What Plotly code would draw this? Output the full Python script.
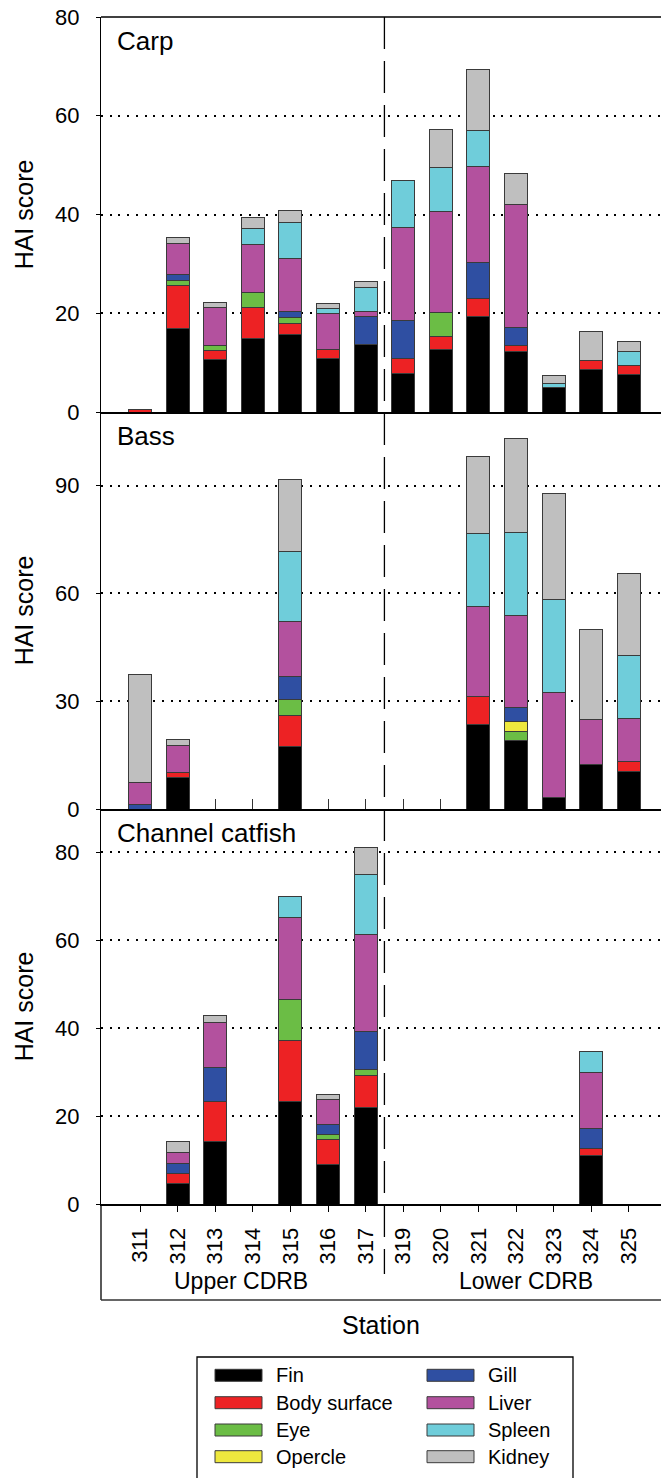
import plotly.graph_objects as go
from plotly.subplots import make_subplots

stations = ["311", "312", "313", "314", "315", "316", "317",
            "319", "320", "321", "322", "323", "324", "325"]
organs = ["Fin", "Body surface", "Eye", "Opercle", "Gill", "Liver", "Spleen", "Kidney"]
colors = ["#000000", "#ED2224", "#6BBD45", "#EEE83E", "#2F4FA2", "#B3519E", "#6FCDDA", "#BFBFBF"]

# Carp
carp_fin     = [0, 17.0, 10.6, 14.8, 15.6, 10.8, 13.6, 7.7, 12.6, 19.3, 12.2, 5.0, 8.6, 7.5]
carp_body    = [0.5, 8.6, 1.9, 6.4, 2.4, 1.9, 0, 3.1, 2.6, 3.6, 1.3, 0, 1.9, 2.0]
carp_eye     = [0, 1.1, 0.9, 3.1, 1.1, 0, 0, 0, 5.0, 0, 0, 0, 0, 0]
carp_opercle = [0, 0, 0, 0, 0, 0, 0, 0, 0, 0, 0, 0, 0, 0]
carp_gill    = [0, 1.1, 0, 0, 1.2, 0, 5.8, 7.8, 0, 7.4, 3.7, 0, 0, 0]
carp_liver   = [0, 6.4, 7.7, 9.6, 10.8, 7.3, 1.0, 18.8, 20.4, 19.5, 24.8, 0, 0, 0]
carp_spleen  = [0, 0, 0, 3.2, 7.2, 1.0, 4.9, 9.5, 9.0, 7.2, 0, 0.7, 0, 2.8]
carp_kidney  = [0, 1.2, 1.1, 2.2, 2.5, 1.0, 1.1, 0, 7.7, 12.3, 6.4, 1.7, 5.9, 2.0]

# Bass
bass_fin     = [0, 8.8, 0, 0, 17.5, 0, 0, 0, 0, 23.6, 19.1, 3.2, 12.4, 10.5]
bass_body    = [0, 1.4, 0, 0, 8.5, 0, 0, 0, 0, 7.7, 0, 0, 0, 2.8]
bass_eye     = [0, 0, 0, 0, 4.4, 0, 0, 0, 0, 0, 2.5, 0, 0, 0]
bass_opercle = [0, 0, 0, 0, 0, 0, 0, 0, 0, 0, 2.8, 0, 0, 0]
bass_gill    = [1.3, 0, 0, 0, 6.6, 0, 0, 0, 0, 0, 3.9, 0, 0, 0]
bass_liver   = [6.0, 7.4, 0, 0, 15.2, 0, 0, 0, 0, 25.2, 25.6, 29.2, 12.5, 12.0]
bass_spleen  = [0, 0, 0, 0, 19.6, 0, 0, 0, 0, 20.1, 23.2, 26.0, 0, 17.4]
bass_kidney  = [30.2, 1.7, 0, 0, 19.8, 0, 0, 0, 0, 21.5, 25.9, 29.4, 25.1, 22.8]

# Channel catfish
cat_fin     = [0, 4.6, 14.2, 0, 23.3, 9.0, 22.0, 0, 0, 0, 0, 0, 11.0, 0]
cat_body    = [0, 2.3, 9.1, 0, 13.9, 5.7, 7.3, 0, 0, 0, 0, 0, 1.6, 0]
cat_eye     = [0, 0, 0, 0, 9.3, 1.1, 1.3, 0, 0, 0, 0, 0, 0, 0]
cat_opercle = [0, 0, 0, 0, 0, 0, 0, 0, 0, 0, 0, 0, 0, 0]
cat_gill    = [0, 2.3, 7.7, 0, 0, 2.2, 8.6, 0, 0, 0, 0, 0, 4.6, 0]
cat_liver   = [0, 2.4, 10.3, 0, 18.7, 5.7, 22.0, 0, 0, 0, 0, 0, 12.7, 0]
cat_spleen  = [0, 0, 0, 0, 4.8, 0, 13.6, 0, 0, 0, 0, 0, 4.8, 0]
cat_kidney  = [0, 2.5, 1.5, 0, 0, 1.3, 6.2, 0, 0, 0, 0, 0, 0, 0]

panel_titles = ["Carp", "Bass", "Channel catfish"]
carp = [carp_fin, carp_body, carp_eye, carp_opercle, carp_gill, carp_liver, carp_spleen, carp_kidney]
bass = [bass_fin, bass_body, bass_eye, bass_opercle, bass_gill, bass_liver, bass_spleen, bass_kidney]
cat = [cat_fin, cat_body, cat_eye, cat_opercle, cat_gill, cat_liver, cat_spleen, cat_kidney]
panels = [carp, bass, cat]

y_ranges = [[0, 80], [0, 110.5], [0, 89.8]]
y_ticks = [[0, 20, 40, 60, 80], [0, 30, 60, 90], [0, 20, 40, 60, 80]]

FONT = "Liberation Sans, Arial, sans-serif"
W, H = 661, 1478
ML, MR, MT, MB = 101, 0, 17, 274
PW = W - ML - MR
PH = H - MT - MB


def px_x(px):
    return (px - ML) / PW


def px_y(py):
    return (H - MB - py) / PH


fig = make_subplots(rows=3, cols=1, shared_xaxes=True, vertical_spacing=0)

for r, data in enumerate(panels, start=1):
    for name, col, vals in zip(organs, colors, data):
        fig.add_trace(go.Bar(
            x=stations, y=[v if v else None for v in vals], name=name,
            marker=dict(color=col, line=dict(color="#3a3a3a", width=1)),
            width=0.61, showlegend=False,
        ), row=r, col=1)

fig.update_layout(
    barmode="stack", width=W, height=H,
    margin=dict(l=ML, r=MR, t=MT, b=MB),
    paper_bgcolor="white", plot_bgcolor="white",
    font=dict(family=FONT, color="black"),
)

domains = [[px_y(412), 1.0], [px_y(809), px_y(412)], [0.0, px_y(809)]]
for r in range(1, 4):
    yk = "yaxis" if r == 1 else f"yaxis{r}"
    xk = "xaxis" if r == 1 else f"xaxis{r}"
    fig.layout[yk].update(
        domain=domains[r - 1], range=y_ranges[r - 1], tickvals=y_ticks[r - 1],
        showline=True, linecolor="black", linewidth=1.3,
        ticks="outside", ticklen=4, tickcolor="black", tickwidth=1,
        tickfont=dict(size=22, family=FONT), ticklabelstandoff=12,
        showgrid=True, gridcolor="black", gridwidth=2, griddash="2px,6.7px",
        zeroline=False,
        title=dict(text="HAI score", font=dict(size=25, family=FONT), standoff=14),
    )
    fig.layout[xk].update(
        type="category", range=[-1.037, 13.855], showgrid=False, zeroline=False,
        showline=True, linecolor="black", linewidth=2,
    )

fig.layout.xaxis.update(ticks="", showticklabels=False)
fig.layout.xaxis2.update(ticks="inside", ticklen=10, tickcolor="#333333", tickwidth=1.3,
                         showticklabels=False, layer="below traces")
fig.layout.xaxis3.update(ticks="outside", ticklen=6, tickcolor="black", tickwidth=1.3,
                         showticklabels=True, tickangle=-90,
                         tickfont=dict(size=22, family=FONT), ticklabelstandoff=7)

# panel titles
for r, t in enumerate(panel_titles, start=1):
    yref = "y domain" if r == 1 else f"y{r} domain"
    xref = "x domain" if r == 1 else f"x{r} domain"
    fig.add_annotation(text=t, xref=xref, yref=yref, x=0.025, y=1 - 24 / 396,
                       xanchor="left", yanchor="middle", showarrow=False,
                       font=dict(size=26, family=FONT, color="black"))

shapes = []
# top border
shapes.append(dict(type="line", xref="paper", yref="paper", x0=0, x1=1, y0=1, y1=1,
                   line=dict(color="black", width=1.5)))
# label box below the plot
shapes.append(dict(type="line", xref="paper", yref="paper", x0=0, x1=0,
                   y0=0, y1=px_y(1300), line=dict(color="black", width=1.3)))
shapes.append(dict(type="line", xref="paper", yref="paper", x0=0, x1=1,
                   y0=px_y(1300), y1=px_y(1300), line=dict(color="#333333", width=1.5)))
# upper / lower divider
shapes.append(dict(type="line", xref="x3", yref="paper", x0=6.5, x1=6.5,
                   y0=1, y1=px_y(1274), line=dict(color="black", width=1.3, dash="32px,12px")))

annotations = []
annotations.append(dict(text="Upper CDRB", xref="paper", yref="paper", x=px_x(240.5), y=px_y(1281),
                        xanchor="center", yanchor="middle", showarrow=False,
                        font=dict(size=23, family=FONT)))
annotations.append(dict(text="Lower CDRB", xref="paper", yref="paper", x=px_x(525.5), y=px_y(1281),
                        xanchor="center", yanchor="middle", showarrow=False,
                        font=dict(size=23, family=FONT)))
annotations.append(dict(text="Station", xref="paper", yref="paper", x=px_x(380.5), y=px_y(1325),
                        xanchor="center", yanchor="middle", showarrow=False,
                        font=dict(size=25, family=FONT)))

# legend box (manual, 2 columns)
lx0, lx1, ly0 = 197, 573, 1357
shapes.append(dict(type="path", xref="paper", yref="paper",
                   path=f"M {px_x(lx0)},{px_y(1490)} L {px_x(lx0)},{px_y(ly0)} L {px_x(lx1)},{px_y(ly0)} L {px_x(lx1)},{px_y(1490)}",
                   line=dict(color="black", width=1.3)))
row_y = [1375.3, 1402.7, 1430, 1456.7]
col_sw = [(215, 262, 274), (427, 474, 486)]
for i, (name, col) in enumerate(zip(organs, colors)):
    c = i // 4
    rr = i % 4
    sx0, sx1, tx = col_sw[c]
    cy = row_y[rr]
    shapes.append(dict(type="rect", xref="paper", yref="paper",
                       x0=px_x(sx0), x1=px_x(sx1), y0=px_y(cy + 6), y1=px_y(cy - 6),
                       fillcolor=col, line=dict(color="#3a3a3a", width=1)))
    annotations.append(dict(text=name, xref="paper", yref="paper", x=px_x(tx), y=px_y(cy),
                            xanchor="left", yanchor="middle", showarrow=False,
                            font=dict(size=20, family=FONT)))

fig.update_layout(shapes=shapes)
for a in annotations:
    fig.add_annotation(**a)

fig.write_html("out.html")
